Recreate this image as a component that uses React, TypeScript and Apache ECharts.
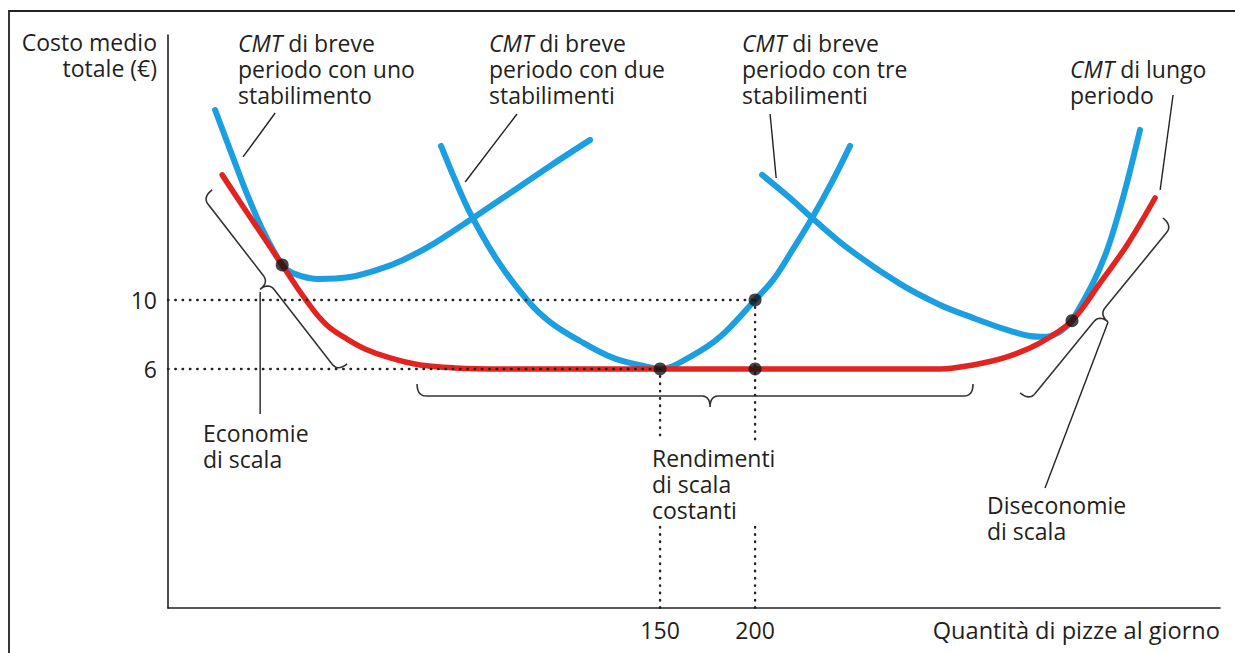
import React, { useEffect, useRef } from "react";
import * as echarts from "echarts";

// ---- data (quantity of pizzas per day, average total cost in €) ----
const xTickValues = [150, 200];
const yTickValues = [6, 10];

const shortRunOnePlant = [
  [-84.2, 21.01], [-76.3, 18.7], [-66.8, 15.97], [-57.9, 13.77], [-48.9, 12.03],
  [-43.7, 11.57], [-30.5, 11.22], [-13.2, 11.33], [4.2, 11.86], [14.7, 12.32],
  [28.9, 13.13], [50.0, 14.64], [71.1, 16.2], [92.1, 17.77], [113.2, 19.28],
];
const shortRunTwoPlants = [
  [34.7, 18.93], [42.1, 16.96], [50.0, 15.04], [64.2, 12.32], [80.0, 10.0],
  [92.1, 8.72], [107.9, 7.62], [125.3, 6.64], [143.2, 6.12],
  [150, 6], [165.8, 6.7], [181.6, 7.86], [200, 10], [209.5, 11.16],
  [218.4, 12.67], [230, 14.75], [240.5, 16.84], [250, 18.93],
];
const shortRunThreePlants = [
  [203.7, 17.25], [218.4, 15.91], [230, 14.75], [250, 12.9], [276.3, 10.93],
  [297.4, 9.71], [314.7, 8.96], [332.6, 8.26], [344.7, 7.91], [352.6, 7.86],
  [359.5, 8.09], [364.2, 8.49], [366.8, 8.8], [377.9, 10.99], [385.3, 12.9],
  [391.1, 14.93], [396.8, 17.25], [402.6, 19.86],
];
const longRun = [
  [-80.5, 17.25], [-71.1, 15.68], [-60.5, 13.94], [-48.9, 12.03], [-41.6, 10.81],
  [-35.3, 9.83], [-30.0, 9.07], [-23.7, 8.38], [-15.8, 7.8], [-5.3, 7.16],
  [7.9, 6.64], [23.7, 6.23], [42.1, 6.06], [65.8, 6], [150, 6], [200, 6],
  [297.4, 6], [314.7, 6.23], [332.6, 6.7], [350, 7.51], [366.8, 8.8],
  [381.6, 10.99], [395.8, 13.19], [410.5, 15.91],
];
const keyPoints = [[-48.9, 12.03], [150, 6], [200, 10], [200, 6], [366.8, 8.8]];

const guideSegments = [
  [[-109, 10], [200, 10]],
  [[-109, 6], [150, 6]],
  [[150, 6], [150, 1.88]],
  [[150, -3.16], [150, -7.86]],
  [[200, 10], [200, 1.88]],
  [[200, -3.16], [200, -7.86]],
];
const leaderSegments = [
  [[-52.6, 20.84], [-69.5, 18.29]],
  [[74.7, 20.78], [47.4, 16.84]],
  [[207.9, 20.78], [211.1, 17.07]],
  [[420, 21.88], [413.2, 16.38]],
  [[-60.5, 10.46], [-60.5, 3.39]],
  [[385.8, 8.72], [352.6, -0.9]],
];
// [x0, y0, x1, y1, tip position along brace]
const braces = [
  [-85.8, 16.38, -14.7, 6.29, 0.49],
  [22.1, 5.13, 314.7, 5.13, 0.527],
  [339.5, 4.61, 414.7, 14.75, 0.49],
];

const BLUE = "#1b9fe0";
const RED = "#e2231f";
const INK = "#231f20";
const FONT = "'Open Sans', 'Noto Sans', sans-serif";
const FS = 23;
const LH = 26;

function quadPts(p0: number[], c: number[], p1: number[], n = 10) {
  const out: number[][] = [];
  for (let i = 1; i <= n; i++) {
    const t = i / n;
    const a = (1 - t) * (1 - t), b = 2 * (1 - t) * t, d = t * t;
    out.push([a * p0[0] + b * c[0] + d * p1[0], a * p0[1] + b * c[1] + d * p1[1]]);
  }
  return out;
}

function braceItem(params: any, api: any) {
  const a = api.coord([api.value(0), api.value(1)]);
  const b = api.coord([api.value(2), api.value(3)]);
  const frac = api.value(4);
  const dx = b[0] - a[0], dy = b[1] - a[1];
  const L = Math.hypot(dx, dy);
  const ux = dx / L, uy = dy / L;
  const nx = -uy, ny = ux;
  const h = 12, r = 9, tip = 11, r2 = 9;
  const m = frac * L;
  const P = (t: number, s: number) => [a[0] + t * ux + s * nx, a[1] + t * uy + s * ny];
  let pts: number[][] = [P(0, 0)];
  pts = pts.concat(quadPts(P(0, 0), P(0, h), P(r, h)));
  pts.push(P(m - r2, h));
  pts = pts.concat(quadPts(P(m - r2, h), P(m, h), P(m, h + tip)));
  pts = pts.concat(quadPts(P(m, h + tip), P(m, h), P(m + r2, h)));
  pts.push(P(L - r, h));
  pts = pts.concat(quadPts(P(L - r, h), P(L, h), P(L, 0)));
  return {
    type: "polyline",
    shape: { points: pts },
    style: { stroke: "#333", lineWidth: 1.6, fill: "none" },
  };
}

function textEl(x: number, y: number, text: string, align = "left", fs = FS) {
  return {
    type: "text",
    x,
    y,
    style: {
      text,
      fill: INK,
      fontSize: fs,
      fontFamily: FONT,
      lineHeight: LH,
      align,
      verticalAlign: "top",
      rich: { i: { fontStyle: "italic", fontSize: fs, fontFamily: FONT, lineHeight: LH, fill: INK } },
    },
    z: 10,
  };
}

export default function App() {
  const ref = useRef<HTMLDivElement>(null);
  useEffect(() => {
    if (!ref.current) return;
    const chart = echarts.init(ref.current, null, { renderer: "svg" });
    const segSeries = (segs: number[][][], name: string, style: any, z: number) =>
      segs.map((s) => ({
        type: "line",
        name,
        data: s,
        showSymbol: false,
        silent: true,
        lineStyle: style,
        z,
      }));
    const curve = (name: string, data: number[][], color: string, width: number, z: number) => ({
      type: "line",
      name,
      data,
      smooth: 0.35,
      showSymbol: false,
      silent: true,
      lineStyle: { color, width, cap: "round" },
      z,
    });
    chart.setOption({
      animation: false,
      backgroundColor: "#ffffff",
      grid: { left: 168, right: 15, top: 35, bottom: 45, containLabel: false },
      xAxis: {
        type: "value",
        min: -109,
        max: 444.7,
        axisLine: { show: true, onZero: false, lineStyle: { color: "#222", width: 1.6 } },
        axisTick: { show: false },
        splitLine: { show: false },
        axisLabel: { customValues: xTickValues, fontSize: FS, color: INK, fontFamily: FONT, margin: 10 },
      },
      yAxis: {
        type: "value",
        min: -7.86,
        max: 25.36,
        axisLine: { show: true, onZero: false, lineStyle: { color: "#222", width: 1.6 } },
        axisTick: { show: false },
        splitLine: { show: false },
        axisLabel: { customValues: yTickValues, fontSize: FS, color: INK, fontFamily: FONT, margin: 11 },
      },
      graphic: [
        { type: "rect", shape: { x: 9, y: 11, width: 1400, height: 800 }, style: { fill: "none", stroke: "#222", lineWidth: 1.8 }, silent: true },
        textEl(157, 29, "Costo medio\ntotale (€)", "right"),
        textEl(238, 30, "{i|CMT} di breve\nperiodo con uno\nstabilimento"),
        textEl(489, 30, "{i|CMT} di breve\nperiodo con due\nstabilimenti"),
        textEl(742, 30, "{i|CMT} di breve\nperiodo con tre\nstabilimenti"),
        textEl(1070, 56, "{i|CMT} di lungo\nperiodo"),
        textEl(203, 420, "Economie\ndi scala"),
        textEl(652, 445, "Rendimenti\ndi scala\ncostanti"),
        textEl(987, 492, "Diseconomie\ndi scala"),
        textEl(1220, 617, "Quantità di pizze al giorno", "right", 23.6),
      ],
      series: [
        curve("CMT breve periodo, uno stabilimento", shortRunOnePlant, BLUE, 6, 2),
        curve("CMT breve periodo, due stabilimenti", shortRunTwoPlants, BLUE, 6, 2),
        curve("CMT breve periodo, tre stabilimenti", shortRunThreePlants, BLUE, 6, 2),
        curve("CMT lungo periodo", longRun, RED, 5.5, 3),
        ...segSeries(guideSegments, "guide", { color: "#222", width: 2.4, type: [0.5, 6.8], cap: "round" }, 4),
        ...segSeries(leaderSegments, "leader", { color: "#222", width: 1.4 }, 4),
        {
          type: "custom",
          name: "braces",
          data: braces,
          renderItem: braceItem,
          encode: { x: [0, 2], y: [1, 3] },
          silent: true,
          z: 4,
        },
        {
          type: "scatter",
          name: "punti",
          data: keyPoints,
          symbolSize: 13,
          itemStyle: { color: "#151515" },
          silent: true,
          z: 6,
        },
      ],
    });
    return () => chart.dispose();
  }, []);
  return (
    <div
      ref={ref}
      style={{ position: "fixed", left: 0, top: 0, width: 1235, height: 653, background: "#fff" }}
    />
  );
}
